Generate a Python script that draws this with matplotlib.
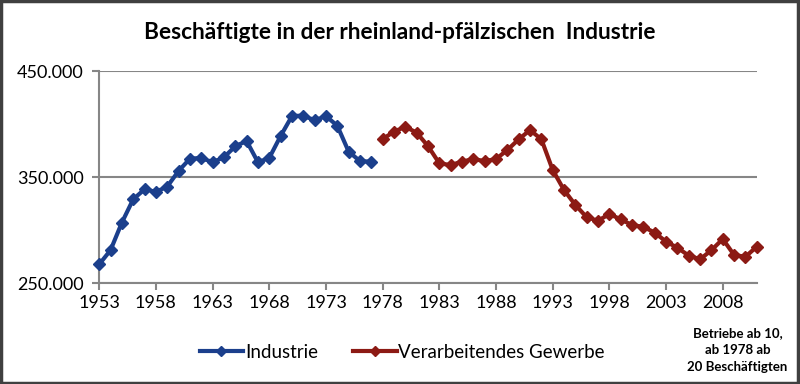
import matplotlib
matplotlib.use('Agg')
import matplotlib.pyplot as plt
from matplotlib.ticker import FuncFormatter
from matplotlib.patches import Rectangle

plt.rcParams['font.family'] = ['Lato', 'DejaVu Sans']

# Data
years_ind = list(range(1953, 1978))
industrie = [267600, 281000, 307000, 329000, 338400, 336000, 341000, 355700,
             367300, 368000, 364000, 368600, 379000, 384000, 364000, 368000,
             388700, 407500, 408000, 403500, 407500, 398400, 374000, 365000,
             364500]

years_vg = list(range(1978, 2012))
verarbeitend = [385800, 392800, 397500, 391800, 379200, 362900, 361300, 364500,
                367000, 365000, 367000, 375500, 385600, 394300, 385600, 356600,
                337700, 323600, 312000, 308800, 315100, 310000, 304700, 303000,
                297500, 289000, 283300, 275800, 272400, 281000, 291500, 276400,
                274800, 284300]

xticks = list(range(1953, 2012, 5))

blue = '#1b3f8c'
red = '#8c1a14'

fig = plt.figure(figsize=(8, 3.84), dpi=100)
ax = fig.add_axes([0.124, 0.263, 0.822, 0.552])

ax.plot(years_ind, industrie, color=blue, lw=3, marker='D', ms=6,
        label='Industrie', clip_on=False, zorder=3)
ax.plot(years_vg, verarbeitend, color=red, lw=3, marker='D', ms=6,
        label='Verarbeitendes Gewerbe', clip_on=False, zorder=3)

ax.set_xlim(1953, 2011)
ax.set_ylim(250000, 450000)
ax.set_yticks([250000, 350000, 450000])
ax.yaxis.set_major_formatter(FuncFormatter(lambda v, p: f'{int(v):,}'.replace(',', '.')))
ax.set_xticks(xticks)
ax.grid(axis='y', color='#868686', lw=1.5)
ax.set_axisbelow(True)

for s in ['top', 'right']:
    ax.spines[s].set_visible(False)
for s in ['left', 'bottom']:
    ax.spines[s].set_color('#868686')
    ax.spines[s].set_linewidth(1.5)
ax.tick_params(axis='both', colors='#868686', width=1.5, length=5,
               labelcolor='black', labelsize=13)
ax.tick_params(axis='y', pad=6)

fig.text(0.5, 0.915, 'Beschäftigte in der rheinland-pfälzischen  Industrie',
         ha='center', va='center', fontsize=16.3, fontweight='bold')

ax.legend(loc='center', bbox_to_anchor=(0.503, 0.082), bbox_transform=fig.transFigure,
          ncol=2, frameon=False, fontsize=13.5, handlelength=2.3,
          handletextpad=0.1, columnspacing=1.9, markerscale=0.8)

fig.text(0.922, 0.088, 'Betriebe ab 10,\nab 1978 ab\n20 Beschäftigten',
         ha='center', va='center', fontsize=9.5, fontweight='bold',
         linespacing=1.5)

fig.patches.append(Rectangle((0.001, 0.003), 0.996, 0.994, transform=fig.transFigure,
                             fill=False, edgecolor='#404040', lw=2.5))

fig.savefig('out.png', dpi=100)
